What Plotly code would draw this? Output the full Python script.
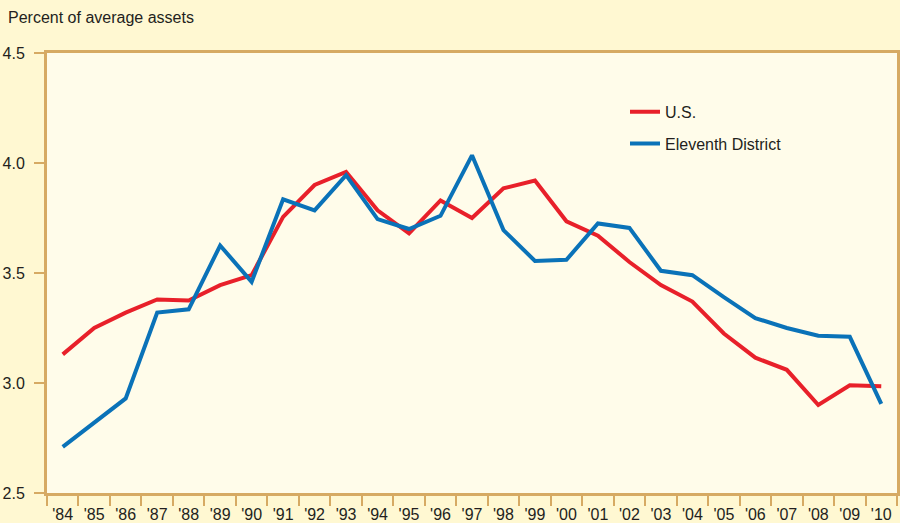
import plotly.graph_objects as go

years = ["'84", "'85", "'86", "'87", "'88", "'89", "'90", "'91", "'92", "'93",
         "'94", "'95", "'96", "'97", "'98", "'99", "'00", "'01", "'02", "'03",
         "'04", "'05", "'06", "'07", "'08", "'09", "'10"]
us = [3.13, 3.25, 3.32, 3.38, 3.375, 3.445, 3.49, 3.755, 3.90, 3.96,
      3.785, 3.68, 3.83, 3.75, 3.885, 3.92, 3.735, 3.67, 3.55, 3.445,
      3.37, 3.225, 3.115, 3.06, 2.90, 2.99, 2.985]
eleventh = [2.71, 2.82, 2.93, 3.32, 3.335, 3.625, 3.46, 3.835, 3.785, 3.945,
            3.745, 3.70, 3.76, 4.035, 3.695, 3.555, 3.56, 3.725, 3.705, 3.51,
            3.49, 3.39, 3.295, 3.25, 3.215, 3.21, 2.905]
y_ticks = [2.5, 3.0, 3.5, 4.0, 4.5]
y_tick_labels = ["2.5", "3.0", "3.5", "4.0", "4.5"]

FONT = "Liberation Sans Narrow, Arial Narrow, Liberation Sans, Arial, sans-serif"
TAN = "#D6AA63"
TXT = "#231F20"

fig = go.Figure()
fig.add_trace(go.Scatter(x=years, y=us, mode="lines", name="U.S.",
                         legendgroup="a",
                         line=dict(color="#E8202A", width=4)))
fig.add_trace(go.Scatter(x=years, y=eleventh, mode="lines", name="Eleventh District",
                         legendgroup="b",
                         line=dict(color="#0A72B8", width=4)))

fig.update_layout(
    width=900, height=523,
    margin=dict(l=47, r=3, t=53, b=30),
    paper_bgcolor="#FFF8D2",
    plot_bgcolor="#FFFCEA",
    font=dict(family=FONT, size=16, color=TXT),
    showlegend=True,
    legend=dict(x=0.68, y=0.905, xanchor="left", yanchor="top",
                bgcolor="rgba(0,0,0,0)", tracegroupgap=8,
                font=dict(family=FONT, size=16, color=TXT)),
    annotations=[dict(text="Percent of average assets", x=0, y=1, xref="paper",
                      yref="paper", xshift=-41, yshift=46, showarrow=False,
                      xanchor="left", yanchor="top",
                      font=dict(family=FONT, size=16, color=TXT))],
)
fig.update_xaxes(type="category", range=[-0.5, len(years) - 0.5],
                 tickson="boundaries", ticks="outside", ticklen=10,
                 tickwidth=2, tickcolor=TAN, showgrid=False,
                 showline=True, linecolor=TAN, linewidth=3, mirror=True,
                 ticklabelstandoff=5, automargin=False,
                 tickfont=dict(family=FONT, size=16, color=TXT))
fig.update_yaxes(range=[2.5, 4.5], tickvals=y_ticks, ticktext=y_tick_labels,
                 ticks="outside", ticklen=10, tickwidth=2, tickcolor=TAN,
                 showgrid=False, zeroline=False,
                 showline=True, linecolor=TAN, linewidth=3, mirror=True,
                 ticklabelstandoff=6, automargin=False,
                 tickfont=dict(family=FONT, size=16, color=TXT))

fig.write_html("out.html", config={"displayModeBar": False},
               post_script="document.body.style.margin='0';document.body.style.overflow='hidden';")
